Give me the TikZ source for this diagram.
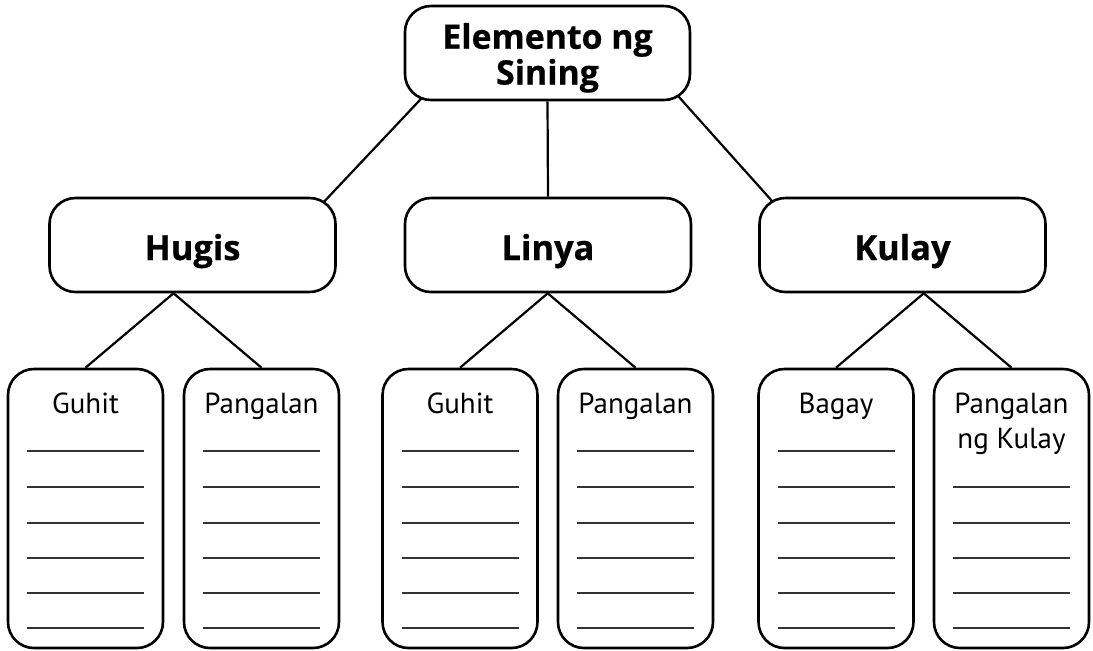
\documentclass[tikz,border=0pt]{standalone}
\usepackage{fontspec}
\setmainfont{PT Sans}
\newfontfamily\headfont{Open Sans}[BoldFeatures={FakeBold=0.6}]
\usetikzlibrary{backgrounds,calc}

\begin{document}
\begin{tikzpicture}[x=1pt,y=-1pt,
			box/.style={draw,line width=1.3pt,rounded corners=13pt,fill=white,inner sep=0pt},
			topbox/.style={box,minimum width=142.5pt,minimum height=47pt,align=center,font=\headfont\bfseries\fontsize{16.9}{16.5}\selectfont},
			head/.style={box,minimum width=143pt,minimum height=47pt,text height=15pt,text depth=0pt,font=\headfont\bfseries\fontsize{17.2}{20}\selectfont},
			card/.style={box,minimum width=77.5pt,minimum height=139.5pt},
			cardtext/.style={inner sep=0pt,align=center,font=\fontsize{14.5}{17.5}\selectfont},
			blank/.style={line width=0.9pt,black!80},
			link/.style={line width=1.1pt}]
			\useasboundingbox (0,0) rectangle (546.5,325);
			\node[topbox] (elem) at (273.75,26.5) {\rule{0pt}{17.7pt}Elemento ng\\Sining};
			\node[head] (hugis) at (96.25,122.5) {Hugis};
			\node[head] (linya) at (274,122.5) {Linya};
			\node[head] (kulay) at (451.25,122.5) {Kulay};
			\foreach \n/\x/\txt in {g1/42.75/Guhit, p1/130.75/Pangalan, g2/230/Guhit, p2/317.75/Pangalan, b3/418/Bagay}{
				\node[card] (\n) at (\x,254.25) {};
				\node[cardtext,anchor=base] (\n-t) at ([yshift=-23pt]\n.north) {\txt};
				\foreach \k in {41.5,59.5,77.5,95,112.5,130}
					\draw[blank] ([xshift=-29.25pt,yshift=-\k pt]\n.north) -- ++(58.5,0);
			}
			\node[card] (p3) at (505.75,254.25) {};
			\node[cardtext,anchor=base] (p3-t) at ([yshift=-40.5pt]p3.north) {Pangalan\\ng Kulay};
			\foreach \k in {59.5,77.5,95,112.5,130}
				\draw[blank] ([xshift=-29.25pt,yshift=-\k pt]p3.north) -- ++(58.5,0);
			% Verbindungen hinter den Kaesten
			\coordinate (hugis-mid) at ($(g1)!.5!(p1)$);
			\coordinate (linya-mid) at ($(g2)!.5!(p2)$);
			\coordinate (kulay-mid) at ($(b3)!.5!(p3)$);
			\begin{scope}[on background layer]
				\draw[link,shorten <=-6pt,shorten >=-6pt] ([xshift=7.5pt]elem.south west) -- ([xshift=-4pt]hugis.north east);
				\draw[link] (elem.south) -- (linya.north);
				\draw[link,shorten <=-6pt,shorten >=-6pt] ([xshift=-4.25pt]elem.south east) -- ([xshift=5pt]kulay.north west);
				\draw[link] (g1.north) -- (hugis-mid |- hugis.south) -- (p1.north);
				\draw[link] (g2.north) -- (linya-mid |- linya.south) -- (p2.north);
				\draw[link] (b3.north) -- (kulay-mid |- kulay.south) -- (p3.north);
			\end{scope}
		\end{tikzpicture}
\end{document}
